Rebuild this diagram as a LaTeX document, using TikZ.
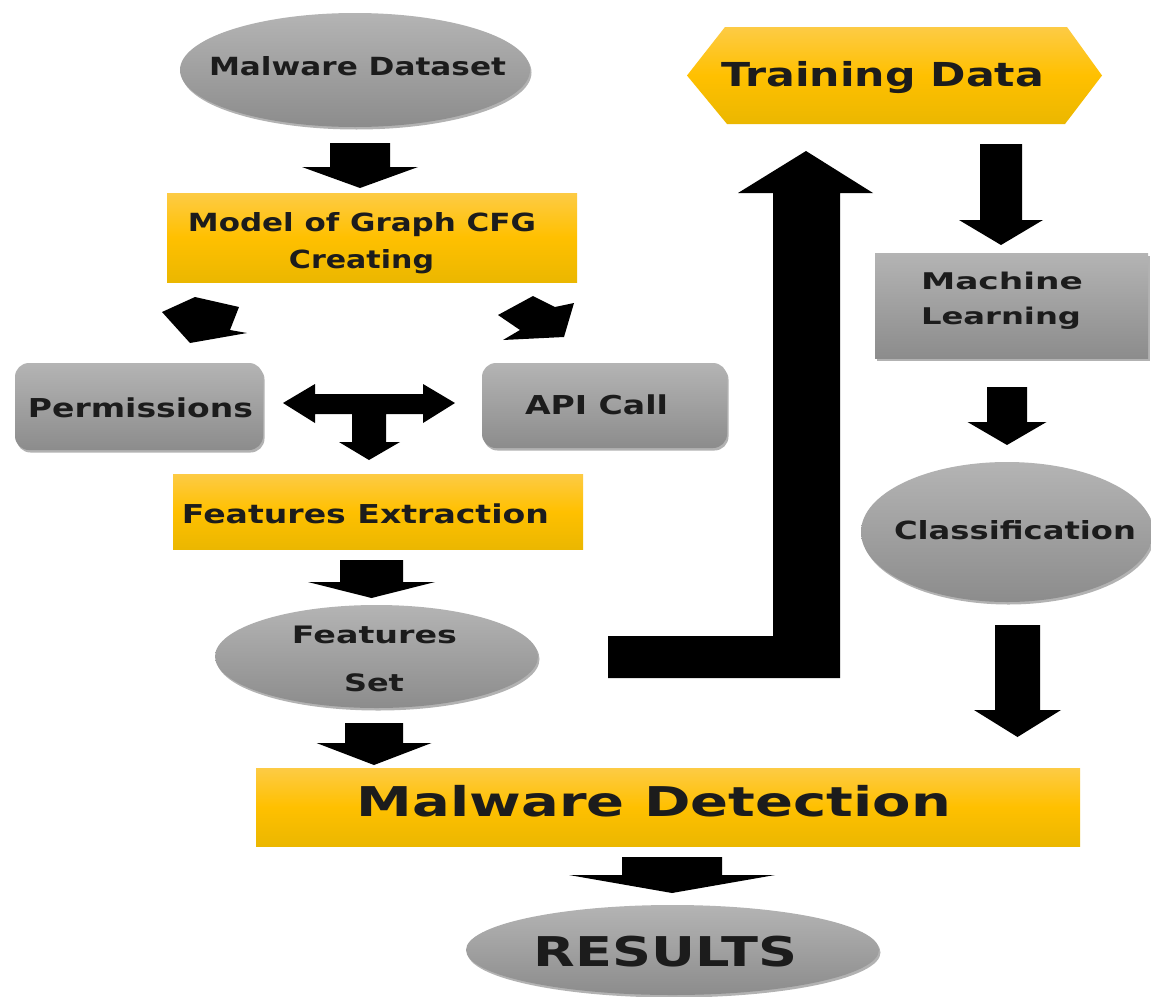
\documentclass[tikz,border=0pt]{standalone}
\usepackage{fontspec}
\setmainfont{DejaVu Sans}
\usepackage{graphicx}
\usetikzlibrary{shapes.geometric,shadows,calc}
\definecolor{yTop}{HTML}{FDCB45}
\definecolor{yMid}{HTML}{FFC000}
\definecolor{yBot}{HTML}{EBB700}
\definecolor{gTop}{HTML}{B4B4B4}
\definecolor{gBot}{HTML}{8C8C8C}
\definecolor{txt}{HTML}{1C1C1C}
\newcommand\sx[2]{\resizebox{#1pt}{\height}{#2}}
% down block arrow: cx, shaft top, head base, tip, shaft half width, head half width
\newcommand\DArrow[6]{\fill[black] (#1-#5,#2) -- (#1+#5,#2) -- (#1+#5,#3) -- (#1+#6,#3) -- (#1,#4) -- (#1-#6,#3) -- (#1-#5,#3) -- cycle;}
\tikzset{
  ybox/.style={rectangle, inner sep=0pt, draw=none, top color=yTop, bottom color=yBot, middle color=yMid},
  gshadow/.style={drop shadow={shadow xshift=1.5pt, shadow yshift=-2.5pt, opacity=0.3, fill=black}},
  gbox/.style={rectangle, inner sep=0pt, draw=none, top color=gTop, bottom color=gBot, gshadow},
  gell/.style={ellipse, inner sep=0pt, draw=none, top color=gTop, bottom color=gBot, gshadow},
  lbl/.style={anchor=base, inner sep=0pt, text=txt},
}
\begin{document}
\begin{tikzpicture}[x=1pt, y=-1pt]
\useasboundingbox (0,0) rectangle (1151,996);
\fill[white] (0,0) rectangle (1151,996);

% ---------- shapes ----------
\node[gell, minimum width=350pt, minimum height=114pt] (ds) at (355,70) {};
\node[ybox, minimum width=410pt, minimum height=89pt] (model) at (372,237.5) {};
\node[gbox, rounded corners=14pt, minimum width=248pt, minimum height=87pt] (perm) at (139,406.5) {};
\node[gbox, rounded corners=14pt, minimum width=245pt, minimum height=85pt] (api) at (604.5,405.5) {};
\node[ybox, minimum width=410pt, minimum height=75pt] (fext) at (378,511.5) {};
\node[gell, minimum width=323pt, minimum height=103pt] (fset) at (376.5,656.5) {};
\node[ybox, minimum width=824pt, minimum height=78pt] (md) at (668,807) {};
\node[gell, minimum width=413pt, minimum height=90pt] (res) at (672.5,950) {};
\node[gbox, minimum width=273pt, minimum height=105pt] (ml) at (1011.5,305.5) {};
\node[gell, minimum width=292pt, minimum height=140pt] (cls) at (1007,532) {};

% training data hexagon
\coordinate (trc) at (894.5,75.5);
\shade[top color=yTop, bottom color=yBot, middle color=yMid]
  (687,75.5) -- (725,27) -- (1067,27) -- (1102,75.5) -- (1065,124) -- (727,124) -- cycle;

% ---------- labels ----------
\node[lbl, font=\bfseries\fontsize{25}{30}\selectfont] at (357.5,75) {\sx{297}{Malware Dataset}};
\node[lbl, font=\bfseries\fontsize{25}{30}\selectfont] at (362,231) {\sx{348}{Model of Graph CFG}};
\node[lbl, font=\bfseries\fontsize{25}{30}\selectfont] at (361.5,268) {\sx{145}{Creating}};
\node[lbl, font=\bfseries\fontsize{26}{31}\selectfont] at (140.5,417) {\sx{225}{Permissions}};
\node[lbl, font=\bfseries\fontsize{26}{31}\selectfont] at (596.5,414) {\sx{143}{API Call}};
\node[lbl, font=\bfseries\fontsize{26}{31}\selectfont] at (365.5,523) {\sx{367}{Features Extraction}};
\node[lbl, font=\bfseries\fontsize{24}{29}\selectfont] at (374.5,643) {\sx{165}{Features}};
\node[lbl, font=\bfseries\fontsize{24}{29}\selectfont] at (374,691) {\sx{60}{Set}};
\node[lbl, font=\bfseries\fontsize{33}{40}\selectfont] at (882.5,86) {\sx{323}{Training Data}};
\node[lbl, font=\bfseries\fontsize{23}{28}\selectfont] at (1002,289) {\sx{162}{Machine}};
\node[lbl, font=\bfseries\fontsize{23}{28}\selectfont] at (1001,324) {\sx{160}{Learning}};
\node[lbl, font=\bfseries\fontsize{25}{30}\selectfont] at (1015,539) {\sx{242}{Classification}};
\node[lbl, font=\bfseries\fontsize{41}{48}\selectfont] at (654,816) {\sx{594}{Malware Detection}};
\node[lbl, font=\bfseries\fontsize{41}{48}\selectfont] at (665.5,966) {\sx{263}{RESULTS}};

% ---------- block arrows ----------
\DArrow{360}{143}{167}{188}{30}{58}
\DArrow{371.5}{560}{582}{598}{31.5}{63.5}
\DArrow{374}{723}{743}{765}{29}{57.5}
\DArrow{672}{857}{875}{893}{50}{103}
\DArrow{1001}{144}{220}{245}{21}{42}
\DArrow{1007}{387}{422}{445}{20}{39.5}
\DArrow{1017.5}{625}{710}{737}{22.5}{43.5}

% diagonal arrows
\fill[black] (162,312) -- (195,297) -- (239,307) -- (230,330) -- (247,333) -- (190,343) -- cycle;
\fill[black] (498,315) -- (533,296) -- (555,307) -- (574,303) -- (564,337) -- (503,340) -- (520,330) -- cycle;

% T arrow
\fill[black] (283,403) -- (315,384) -- (315,394) -- (423,394) -- (423,384) -- (455,403)
  -- (423,423) -- (423,414) -- (386,414) -- (386,442) -- (400,442) -- (369,460)
  -- (339,442) -- (352,442) -- (352,414) -- (315,414) -- (315,423) -- cycle;

% L arrow
\fill[black] (608,636) -- (773,636) -- (773,193) -- (738,193) -- (806,151) -- (873,193)
  -- (840,193) -- (840,678) -- (608,678) -- cycle;
\end{tikzpicture}
\end{document}
